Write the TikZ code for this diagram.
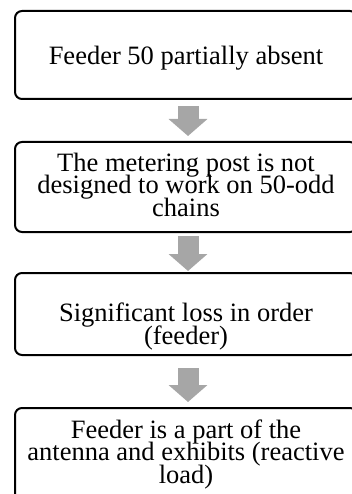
\documentclass[tikz,border=0pt]{standalone}
\usepackage{fontspec}
\setmainfont{Liberation Serif}
\usetikzlibrary{arrows.meta}
\definecolor{arrowgray}{HTML}{A6A6A6}
\newcommand\mytightlines{\lineskiplimit=-100pt\relax\lineskip=0pt\relax}
\tikzset{
  stepbox/.style={draw=black, line width=2pt, rounded corners=7pt, fill=white,
    minimum width=342pt, inner xsep=0pt, inner ysep=0pt, align=center,
    font=\fontsize{26.5}{22.5}\selectfont\mytightlines},
  bigarrow/.style={draw=arrowgray, line width=21pt, line cap=butt,
    -{Triangle[length=17pt, width=38pt, fill=arrowgray]}}
}
\begin{document}
\begin{tikzpicture}[x=1pt, y=-1pt]
  \useasboundingbox (0,0) rectangle (352,494);
  \clip (0,0) rectangle (352,494);
  \node[stepbox, text height=54pt, text depth=34pt, anchor=base] (b1) at (186,65)
    {Feeder 50 partially absent};
  \node[stepbox, text height=74pt, text depth=16pt, anchor=base] (b2) at (186,216)
    {The metering post is not\\designed to work on 50-odd\\chains};
  \node[stepbox, text height=71pt, text depth=11pt, anchor=base] (b3) at (186,344)
    {Significant loss in order\\(feeder)};
  \node[stepbox, text height=75pt, text depth=25pt, anchor=base] (b4) at (186,483)
    {Feeder is a part of the\\antenna and exhibits (reactive\\load)};
  \draw[bigarrow] ([xshift=2pt, yshift=-6pt]b1.south) -- ([xshift=2pt, yshift=5pt]b2.north);
  \draw[bigarrow] ([xshift=2pt, yshift=-3pt]b2.south) -- ([xshift=2pt, yshift=1pt]b3.north);
  \draw[bigarrow] ([xshift=2pt, yshift=-12pt]b3.south) -- ([xshift=2pt, yshift=5pt]b4.north);
\end{tikzpicture}
\end{document}
